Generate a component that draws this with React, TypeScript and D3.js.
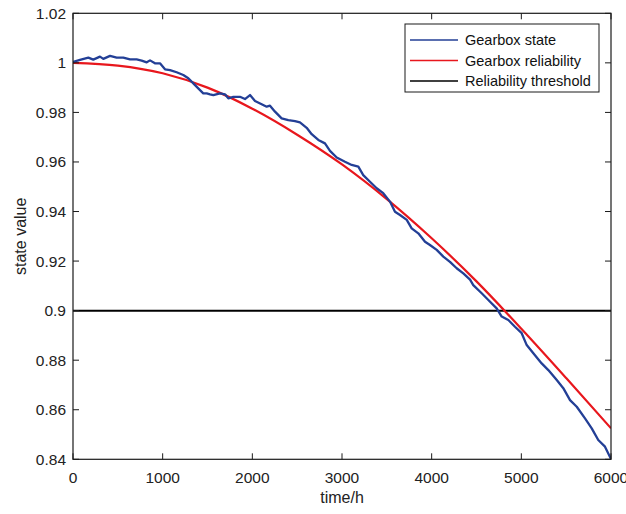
import React from "react";
import * as d3 from "d3";

const stateTime = [0, 78, 171, 226, 301, 338, 413, 487, 561, 636, 710, 766, 822, 859, 914, 970, 1026, 1082, 1156, 1230, 1286, 1342, 1397, 1453, 1491, 1528, 1565, 1640, 1695, 1732, 1788, 1862, 1918, 1974, 2030, 2104, 2160, 2197, 2253, 2327, 2401, 2476, 2531, 2606, 2662, 2736, 2810, 2866, 2941, 3033, 3108, 3182, 3237, 3312, 3387, 3460, 3535, 3591, 3647, 3722, 3777, 3851, 3926, 3981, 4056, 4130, 4204, 4279, 4353, 4428, 4464, 4558, 4632, 4725, 4781, 4855, 4929, 5004, 5060, 5134, 5227, 5301, 5395, 5468, 5543, 5618, 5710, 5785, 5858, 5933, 6000];
const stateValue = [1.0004, 1.0012, 1.0021, 1.0013, 1.0025, 1.0016, 1.0028, 1.0021, 1.0021, 1.0014, 1.0014, 1.0009, 1.0002, 1.001, 0.9998, 0.9998, 0.9974, 0.9971, 0.9962, 0.9951, 0.9938, 0.9917, 0.9897, 0.9877, 0.9877, 0.9873, 0.987, 0.9877, 0.9873, 0.9857, 0.9863, 0.9863, 0.9854, 0.987, 0.9846, 0.9833, 0.9823, 0.9827, 0.9803, 0.9776, 0.9769, 0.9765, 0.976, 0.9738, 0.9712, 0.9689, 0.9675, 0.9645, 0.9618, 0.9601, 0.9588, 0.9581, 0.9547, 0.952, 0.9494, 0.9474, 0.944, 0.9399, 0.9386, 0.9366, 0.9332, 0.9312, 0.9278, 0.9265, 0.9245, 0.9218, 0.9197, 0.9171, 0.915, 0.9125, 0.9103, 0.907, 0.9043, 0.9009, 0.8976, 0.8962, 0.8935, 0.8909, 0.8861, 0.8828, 0.8787, 0.876, 0.872, 0.8687, 0.8639, 0.8612, 0.8565, 0.8525, 0.8478, 0.8451, 0.8401];

const relTime = [0, 500, 1000, 1500, 2000, 2500, 3000, 3500, 4000, 4500, 5000, 5500, 6000];
const relValue = [1.0, 0.9989, 0.9958, 0.99, 0.9815, 0.971, 0.959, 0.945, 0.9292, 0.9118, 0.8927, 0.8728, 0.8525];

const threshold = 0.9;

const xTicks = [0, 1000, 2000, 3000, 4000, 5000, 6000];
const yTicks = [0.84, 0.86, 0.88, 0.9, 0.92, 0.94, 0.96, 0.98, 1, 1.02];

const legendLabels = ["Gearbox state", "Gearbox reliability", "Reliability threshold"];
const legendColors = ["#233f96", "#e8171d", "#000000"];

const W = 626, H = 514;
const L = 73, R = 611, T = 13.3, B = 459.3;
const FONT = "'Liberation Sans', Arial, Helvetica, sans-serif";

export default function App() {
  const x = d3.scaleLinear().domain([0, 6000]).range([L, R]);
  const y = d3.scaleLinear().domain([0.84, 1.02]).range([B, T]);

  const stateLine = d3.line<number>().x((_, i) => x(stateTime[i])).y((d) => y(d))(stateValue) || "";
  const relLine = d3.line<number>().x((_, i) => x(relTime[i])).y((d) => y(d)).curve(d3.curveMonotoneX)(relValue) || "";

  const tickLen = 6;
  const axisColor = "#1a1a1a";

  return (
    <svg width={W} height={H} style={{ position: "absolute", left: 0, top: 0, background: "#fff" }} fontFamily={FONT}>
      <defs>
        <clipPath id="plot">
          <rect x={L} y={T} width={R - L} height={B - T} />
        </clipPath>
      </defs>
      <rect x={0} y={0} width={W} height={H} fill="#fff" />
      <g clipPath="url(#plot)">
        <line x1={L} x2={R} y1={y(threshold)} y2={y(threshold)} stroke="#000" strokeWidth={2} />
        <path d={relLine} fill="none" stroke={legendColors[1]} strokeWidth={2.2} />
        <path d={stateLine} fill="none" stroke={legendColors[0]} strokeWidth={2.3} strokeLinejoin="round" />
      </g>
      {/* axes box */}
      <rect x={L} y={T} width={R - L} height={B - T} fill="none" stroke={axisColor} strokeWidth={1.2} />
      {xTicks.map((t) => (
        <g key={"x" + t}>
          <line x1={x(t)} x2={x(t)} y1={B} y2={B - tickLen} stroke={axisColor} strokeWidth={1} />
          <line x1={x(t)} x2={x(t)} y1={T} y2={T + tickLen} stroke={axisColor} strokeWidth={1} />
          <text x={x(t)} y={B + 24} textAnchor="middle" fontSize={15.5} fill="#222">{t}</text>
        </g>
      ))}
      {yTicks.map((v) => (
        <g key={"y" + v}>
          <line x1={L} x2={L + tickLen} y1={y(v)} y2={y(v)} stroke={axisColor} strokeWidth={1} />
          <line x1={R} x2={R - tickLen} y1={y(v)} y2={y(v)} stroke={axisColor} strokeWidth={1} />
          <text x={L - 7} y={y(v) + 5.5} textAnchor="end" fontSize={15.5} fill="#222">{String(+v.toFixed(2))}</text>
        </g>
      ))}
      <text x={(L + R) / 2} y={503} textAnchor="middle" fontSize={16} fill="#222">time/h</text>
      <text transform={`translate(26,${(T + B) / 2}) rotate(-90)`} textAnchor="middle" fontSize={16} fill="#222">state value</text>
      {/* legend */}
      <rect x={405} y={24} width={194} height={68} fill="#fff" stroke={axisColor} strokeWidth={1} />
      {legendLabels.map((lab, i) => {
        const ly = 40 + i * 20.5;
        return (
          <g key={lab}>
            <line x1={410} x2={458} y1={ly} y2={ly} stroke={legendColors[i]} strokeWidth={1.5} />
            <text x={465} y={ly + 5} fontSize={14.5} fill="#111">{lab}</text>
          </g>
        );
      })}
    </svg>
  );
}
